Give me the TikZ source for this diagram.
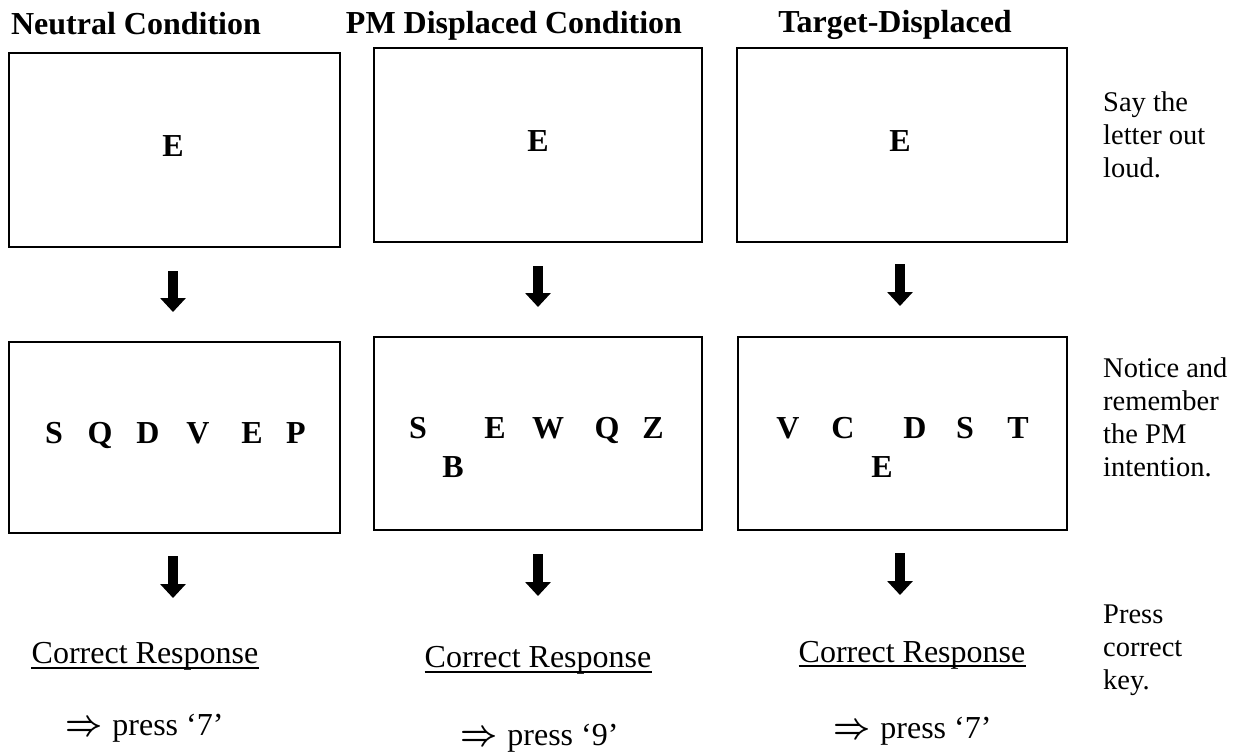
\documentclass[tikz,border=0pt]{standalone}
\usepackage{fontspec}
\setmainfont{Liberation Serif}
\usetikzlibrary{arrows.meta}
\newcommand{\thickimp}{\scalebox{1.3}[1.45]{\boldmath$\Rightarrow$}}
\begin{document}
\begin{tikzpicture}[x=1pt,y=-1pt,
  screen/.style={draw,line width=2.3pt,inner sep=0pt},
  title/.style={font=\fontsize{32}{38}\selectfont\bfseries,anchor=base,inner sep=0pt},
  ltr/.style={font=\fontsize{32}{38}\selectfont\bfseries,inner sep=0pt,anchor=base},
  resp/.style={font=\fontsize{32}{38}\selectfont,anchor=base,inner sep=0pt},
  press/.style={font=\fontsize{32}{38}\selectfont,anchor=base west,inner sep=0pt},
  uline/.style={line width=1.4pt},
  note/.style={font=\fontsize{28.5}{33}\selectfont,align=left,anchor=north west,inner sep=0pt},
  bigarrow/.style={line width=10pt,-{Triangle[width=25pt,length=14pt]}}]
\useasboundingbox (0,0) rectangle (1244,752);
% titles
\node[title] (h1) at (136,35) {Neutral Condition};
\node[title] (h2) at (514,34) {PM Displaced Condition};
\node[title] (h3) at (895,33) {Target-Displaced};
% top screens
\node[screen,minimum width=331pt,minimum height=194pt] (t1) at (174.5,150) {};
\node[screen,minimum width=328pt,minimum height=194pt] (t2) at (538,145) {};
\node[screen,minimum width=330pt,minimum height=194pt] (t3) at (902,145) {};
\node[ltr] (e1) at (173,156) {E};
\node[ltr] (e2) at (538,151) {E};
\node[ltr] (e3) at (900,151) {E};
% middle screens
\node[screen,minimum width=331pt,minimum height=191pt] (m1) at (174.5,437.5) {};
\node[screen,minimum width=328pt,minimum height=193pt] (m2) at (538,433.5) {};
\node[screen,minimum width=329pt,minimum height=193pt] (m3) at (902.5,433.5) {};
% letters row 1
\node[ltr] (a1) at (54,443) {S};
\node[ltr] (a2) at (100,443) {Q};
\node[ltr] (a3) at (148,443) {D};
\node[ltr] (a4) at (198,443) {V};
\node[ltr] (a5) at (252,443) {E};
\node[ltr] (a6) at (296,443) {P};
% letters row 2
\node[ltr] (b1) at (418,438) {S};
\node[ltr] (b2) at (453,477) {B};
\node[ltr] (b3) at (495,438) {E};
\node[ltr] (b4) at (548,438) {W};
\node[ltr] (b5) at (607,438) {Q};
\node[ltr] (b6) at (653,438) {Z};
% letters row 3
\node[ltr] (c1) at (788,438) {V};
\node[ltr] (c2) at (843,438) {C};
\node[ltr] (c3) at (882,477) {E};
\node[ltr] (c4) at (915,438) {D};
\node[ltr] (c5) at (965,438) {S};
\node[ltr] (c6) at (1018,438) {T};
% arrows between screens
\coordinate (u1) at (173,312);
\coordinate (u2) at (538,307);
\coordinate (u3) at (900,306);
\draw[bigarrow,shorten <=23pt] (t1.south -| u1) -- (u1);
\draw[bigarrow,shorten <=23pt] (t2.south -| u2) -- (u2);
\draw[bigarrow,shorten <=21pt] (t3.south -| u3) -- (u3);
% arrows to responses
\coordinate (d1) at (173,598);
\coordinate (d2) at (538,596);
\coordinate (d3) at (900,595);
\draw[bigarrow,shorten <=22pt] (m1.south -| d1) -- (d1);
\draw[bigarrow,shorten <=23pt] (m2.south -| d2) -- (d2);
\draw[bigarrow,shorten <=22pt] (m3.south -| d3) -- (d3);
% responses
\node[resp] (r1) at (145,663) {Correct Response};
\node[resp] (r2) at (538,667) {Correct Response};
\node[resp] (r3) at (912,662) {Correct Response};
\draw[uline] ([yshift=-5pt]r1.base west) -- ([yshift=-5pt]r1.base east);
\draw[uline] ([yshift=-5pt]r2.base west) -- ([yshift=-5pt]r2.base east);
\draw[uline] ([yshift=-4pt]r3.base west) -- ([yshift=-4pt]r3.base east);
\node[press] (p1) at (65,735) {\thickimp\hspace{10pt}press `7'};
\node[press] (p2) at (460,745) {\thickimp\hspace{10pt}press `9'};
\node[press] (p3) at (833,738) {\thickimp\hspace{10pt}press `7'};
% side notes
\node[note] (n1) at (1103,92) {Say the\\letter out\\loud.};
\node[note] (n2) at (1103,358) {Notice and\\remember\\the PM\\intention.};
\node[note] (n3) at (1103,605) {Press\\correct\\key.};
\end{tikzpicture}
\end{document}
